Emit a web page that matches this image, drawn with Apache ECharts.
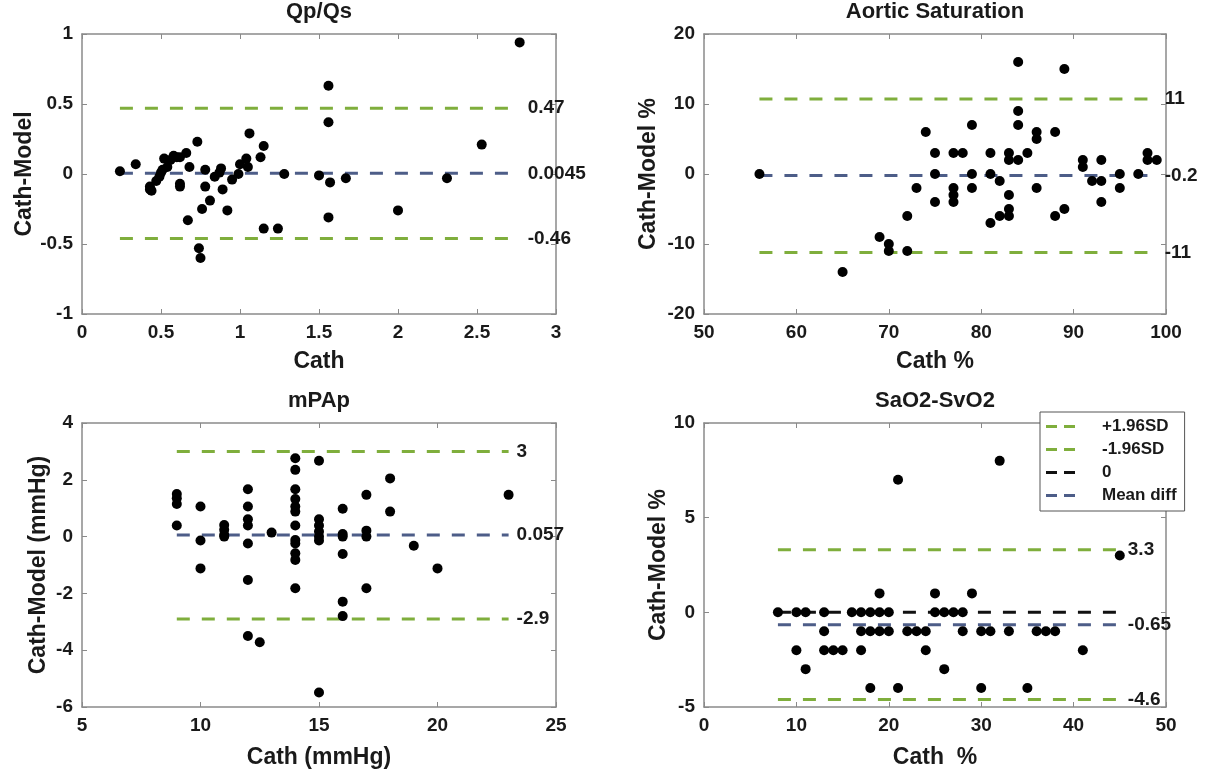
<!DOCTYPE html>
<html><head><meta charset="utf-8">
<script src="https://cdn.jsdelivr.net/npm/echarts@6/dist/echarts.min.js"></script>
<style>html,body{margin:0;padding:0;background:#fff}#c{width:1221px;height:772px}</style>
</head><body><div id="c"></div>
<script>
// ---------- DATA ----------
const titles = ['Qp/Qs', 'Aortic Saturation', 'mPAp', 'SaO2-SvO2'];
const xNames = ['Cath', 'Cath %', 'Cath (mmHg)', 'Cath  %'];
const yNames = ['Cath-Model', 'Cath-Model %', 'Cath-Model (mmHg)', 'Cath-Model %'];

const qpPoints = [[0.24,0.02],[0.34,0.07],[0.43,-0.09],[0.43,-0.11],[0.44,-0.12],[0.47,-0.05],[0.49,-0.02],
  [0.50,0.01],[0.52,0.11],[0.51,0.03],[0.54,0.05],[0.56,0.10],[0.58,0.13],[0.60,0.12],[0.62,0.12],
  [0.62,-0.07],[0.62,-0.09],[0.66,0.15],[0.68,0.05],[0.67,-0.33],[0.73,0.23],[0.74,-0.53],[0.75,-0.60],
  [0.76,-0.25],[0.78,0.03],[0.78,-0.09],[0.81,-0.19],[0.84,-0.02],[0.88,0.04],[0.87,0.01],[0.89,-0.11],
  [0.92,-0.26],[0.95,-0.04],[0.99,0.0],[1.0,0.07],[1.04,0.11],[1.05,0.05],[1.06,0.29],[1.13,0.12],
  [1.15,0.20],[1.15,-0.39],[1.24,-0.39],[1.28,0.0],[1.50,-0.01],[1.56,0.63],[1.56,0.37],[1.57,-0.06],
  [1.56,-0.31],[1.67,-0.03],[2.0,-0.26],[2.31,-0.03],[2.53,0.21],[2.77,0.94]];
const qpLimits = [0.47, 0.0045, -0.46];
const qpLimitLabels = ['0.47', '0.0045', '-0.46'];

const aoPoints = [[56,0],[65,-14],[69,-9],[70,-10],[70,-11],[72,-6],[72,-11],[73,-2],[74,6],[75,3],[75,0],
  [75,-4],[77,3],[77,-2],[77,-3],[77,-4],[78,3],[79,7],[79,0],[79,-2],[81,3],[81,0],[81,-7],[82,-1],[82,-6],
  [83,3],[83,2],[83,-3],[83,-5],[83,-6],[84,16],[84,9],[84,7],[84,2],[85,3],[86,6],[86,5],[86,-2],[88,6],
  [88,-6],[89,15],[89,-5],[91,2],[91,1],[92,-1],[93,2],[93,-1],[93,-4],[95,0],[95,-2],[97,0],[98,3],[98,2],[99,2]];
const aoLimits = [10.7, -0.2, -11.2];
const aoLimitLabels = ['11', '-0.2', '-11'];

const paPoints = [[9,1.5],[9,1.35],[9,1.15],[9,0.39],[10,1.06],[10,-0.14],[10,-1.12],[11,0.41],[11,0.24],
  [11,0.06],[11,0.0],[12,1.67],[12,1.06],[12,0.61],[12,0.39],[12,-0.24],[12,-1.53],[12,-3.5],[12.5,-3.72],
  [13,0.14],[14,2.76],[14,2.35],[14,1.67],[14,1.32],[14,1.06],[14,0.88],[14,0.39],[14,-0.12],[14,-0.24],
  [14,-0.59],[14,-0.82],[14,-1.82],[15,2.67],[15,0.61],[15,0.39],[15,0.18],[15,0.0],[15,-0.14],[15,-5.49],
  [16,0.98],[16,0.09],[16,0.0],[16,-0.61],[16,-2.29],[16,-2.8],[17,1.47],[17,0.21],[17,0.0],[17,-1.82],
  [18,2.05],[18,0.88],[19,-0.32],[20,-1.12],[23,1.47]];
const paLimits = [3.0, 0.057, -2.9];
const paLimitLabels = ['3', '0.057', '-2.9'];

const saPoints = [[8,0],[10,0],[11,0],[10,-2],[11,-3],[13,0],[13,-1],[13,-2],[14,-2],[15,-2],[16,0],[17,0],
  [17,-1],[17,-2],[18,0],[18,-1],[18,-4],[19,1],[19,0],[19,-1],[20,0],[20,-1],[21,7],[21,-4],[22,-1],[23,-1],
  [24,-1],[24,-2],[25,1],[25,0],[26,0],[26,-3],[27,0],[28,0],[28,-1],[29,1],[30,-1],[30,-4],[31,-1],[32,8],
  [33,-1],[35,-4],[36,-1],[37,-1],[38,-1],[41,-2],[45,3]];
const saLimits = [3.3, -0.65, -4.6, 0];
const saLimitLabels = ['3.3', '-0.65', '-4.6', ''];
const saLegendNames = ['+1.96SD', 'Mean diff', '-1.96SD', '0'];
const legendOrder = ['+1.96SD', '-1.96SD', '0', 'Mean diff'];

const xRanges = [[0,3,0.5],[50,100,10],[5,25,5],[0,50,10]];
const yRanges = [[-1,1,0.5],[-20,20,10],[-6,4,2],[-5,10,5]];

// ---------- LAYOUT / STYLE ----------
const FONT = '"Liberation Sans", Arial, Helvetica, sans-serif';
const GREEN = '#7fae3c', BLUE = '#4d5d88', BLACK = '#111';
const grids = [
  {left: 82, top: 34, width: 474, height: 280},
  {left: 704, top: 34, width: 462, height: 280},
  {left: 82, top: 423, width: 474, height: 284},
  {left: 704, top: 423, width: 462, height: 284}
];
const yNameGap = [45, 44, 32, 34];
const xNameGap = [36, 36, 39, 39];
const axisLineStyle = {onZero: false, lineStyle: {color: '#8a8a8a', width: 1.5}};
const tickStyle = {show: true, inside: true, length: 5, lineStyle: {color: '#8a8a8a'}};
const nameStyle = {fontFamily: FONT, fontSize: 23, fontWeight: 'bold', color: '#1a1a1a'};
const tickLabelStyle = {fontFamily: FONT, fontSize: 19, fontWeight: 'bold', color: '#1a1a1a', margin: 9};

const xAxis = [], yAxis = [], series = [];
const allPoints = [qpPoints, aoPoints, paPoints, saPoints];
const allLimits = [qpLimits, aoLimits, paLimits, saLimits];
const allLabels = [qpLimitLabels, aoLimitLabels, paLimitLabels, saLimitLabels];
const limitColors = [[GREEN, BLUE, GREEN], [GREEN, BLUE, GREEN], [GREEN, BLUE, GREEN], [GREEN, BLUE, GREEN, BLACK]];

for (let i = 0; i < 4; i++) {
  const [xmin, xmax, xint] = xRanges[i];
  const [ymin, ymax, yint] = yRanges[i];
  xAxis.push({
    type: 'value', gridIndex: i, min: xmin, max: xmax, interval: xint, position: 'bottom',
    name: xNames[i], nameLocation: 'middle', nameGap: xNameGap[i], nameTextStyle: nameStyle,
    axisLine: {show: true, ...axisLineStyle}, axisTick: tickStyle, splitLine: {show: false},
    axisLabel: tickLabelStyle
  });
  xAxis.push({
    type: 'value', gridIndex: i, min: xmin, max: xmax, interval: xint, position: 'top',
    name: titles[i], nameLocation: 'middle', nameGap: 11,
    nameTextStyle: {fontFamily: FONT, fontSize: 22, fontWeight: 'bold', color: '#1a1a1a'},
    axisLine: {show: true, ...axisLineStyle}, axisTick: tickStyle, axisLabel: {show: false}, splitLine: {show: false}
  });
  yAxis.push({
    type: 'value', gridIndex: i, min: ymin, max: ymax, interval: yint, position: 'left',
    name: yNames[i], nameLocation: 'middle', nameGap: yNameGap[i], nameTextStyle: nameStyle,
    axisLine: {show: true, ...axisLineStyle}, axisTick: tickStyle, splitLine: {show: false},
    axisLabel: tickLabelStyle
  });
  yAxis.push({
    type: 'value', gridIndex: i, min: ymin, max: ymax, interval: yint, position: 'right',
    axisLine: {show: true, ...axisLineStyle}, axisTick: tickStyle, axisLabel: {show: false}, splitLine: {show: false}
  });

  const pts = allPoints[i];
  const xs = pts.map(p => p[0]);
  const lx0 = Math.min(...xs), lx1 = Math.max(...xs);
  allLimits[i].forEach((v, k) => {
    const lbl = allLabels[i][k];
    series.push({
      type: 'line', name: i === 3 ? saLegendNames[k] : ('p' + i + '_' + k),
      xAxisIndex: 2 * i, yAxisIndex: 2 * i,
      data: [[lx0, v], [lx1, v]], symbol: 'none', silent: true, animation: false, z: 2,
      lineStyle: {color: limitColors[i][k], width: 3, type: [13, 12]},
      itemStyle: {color: limitColors[i][k]},
      endLabel: {show: lbl !== '', formatter: () => lbl, distance: 8,
        fontFamily: FONT, fontSize: 19, fontWeight: 'bold', color: '#1a1a1a'}
    });
  });
  series.push({
    type: 'scatter', name: 'pts' + i, xAxisIndex: 2 * i, yAxisIndex: 2 * i,
    data: pts, symbolSize: 10, itemStyle: {color: '#000', opacity: 1}, z: 5, animation: false
  });
}

const dashIcon = 'path://M0,0H11V3H0Z M18,0H29V3H18Z';
const chart = echarts.init(document.getElementById('c'), null, {renderer: 'canvas'});
chart.setOption({
  backgroundColor: '#fff',
  animation: false,
  grid: grids,
  xAxis, yAxis, series,
  legend: {
    data: legendOrder.map(n => ({name: n, icon: dashIcon})),
    orient: 'vertical', left: 1040, top: 412,
    itemWidth: 29, itemHeight: 3, itemGap: 6,
    padding: [6, 8, 7, 6],
    borderColor: '#555', borderWidth: 1, backgroundColor: '#fff',
    textStyle: {fontFamily: FONT, fontSize: 17, fontWeight: 'bold', color: '#1a1a1a', padding: [0, 0, 0, 22]},
    selectedMode: false
  }
});
</script>
</body></html>
